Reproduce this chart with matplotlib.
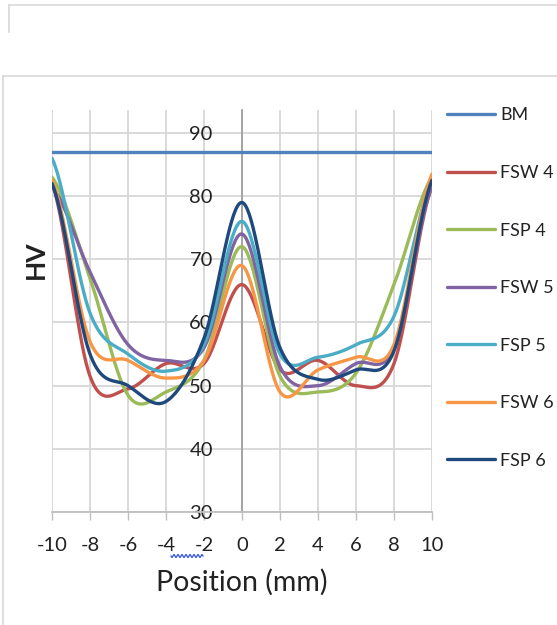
import numpy as np
import matplotlib
matplotlib.use("Agg")
import matplotlib.pyplot as plt
from matplotlib.lines import Line2D

plt.rcParams['font.family'] = ['Lato', 'DejaVu Sans']

# ---------------- data ----------------
positions = [-10, -8, -6, -4, -2, 0, 2, 4, 6, 8, 10]
series_names = ["BM", "FSW 4", "FSP 4", "FSW 5", "FSP 5", "FSW 6", "FSP 6"]
bm    = [87, 87, 87, 87, 87, 87, 87, 87, 87, 87, 87]
fsw4  = [82, 51.5, 49.5, 53.5, 53.5, 66, 52.5, 54, 50, 53.5, 81.5]
fsp4  = [83, 67, 48.5, 49, 54, 72, 51.5, 49, 52, 66, 83]
fsw5  = [81.5, 68, 56.5, 54, 56, 74, 53, 50, 53.5, 56, 81.5]
fsp5  = [86, 61.5, 55, 52.3, 56.5, 76, 55, 54.5, 56.5, 61, 82.5]
fsw6  = [82.5, 57, 54, 51.2, 54, 69, 49, 52.5, 54.5, 56.5, 83.5]
fsp6  = [82, 55, 50, 47.5, 57.5, 79, 56, 51, 52.5, 55.5, 82.5]
series_values = [bm, fsw4, fsp4, fsw5, fsp5, fsw6, fsp6]
colors = ["#4F81BD", "#C0504D", "#9BBB59", "#8064A2", "#4BACC6", "#F79646", "#1F497D"]
x_ticks = [-10, -8, -6, -4, -2, 0, 2, 4, 6, 8, 10]
y_ticks = [30, 40, 50, 60, 70, 80, 90]


def excel_smooth(xs, ys, n=40):
    """Catmull-Rom style smoothing (like Excel's smoothed line)."""
    xs = np.asarray(xs, float)
    ys = np.asarray(ys, float)
    k = len(ys)
    ox, oy = [], []
    for i in range(k - 1):
        p0 = ys[i - 1] if i > 0 else ys[i]
        p1, p2 = ys[i], ys[i + 1]
        p3 = ys[i + 2] if i + 2 < k else ys[i + 1]
        m1 = (p2 - p0) / 2.0
        m2 = (p3 - p1) / 2.0
        t = np.linspace(0, 1, n, endpoint=(i == k - 2))
        h00 = 2 * t**3 - 3 * t**2 + 1
        h10 = t**3 - 2 * t**2 + t
        h01 = -2 * t**3 + 3 * t**2
        h11 = t**3 - t**2
        oy.append(h00 * p1 + h10 * m1 + h01 * p2 + h11 * m2)
        ox.append(xs[i] + t * (xs[i + 1] - xs[i]))
    return np.concatenate(ox), np.concatenate(oy)


W, H = 557, 625
fig = plt.figure(figsize=(W / 100, H / 100), dpi=100)

px_per_unit = (512 - 133) / 60.0
top_px = 110
ymax = 30 + (512 - top_px) / px_per_unit
ax = fig.add_axes([52 / W, 1 - 512 / H, 380 / W, (512 - top_px) / H])

for name, vals, c in zip(series_names, series_values, colors):
    sx, sy = excel_smooth(positions, vals)
    ax.plot(sx, sy, color=c, lw=2.4, label=name, solid_capstyle='round', zorder=3)

ax.set_xlim(-10, 10)
ax.set_ylim(30, ymax)
ax.set_xticks(x_ticks)
ax.set_xticklabels([str(v) for v in x_ticks])
ax.set_yticks(y_ticks)
ax.set_yticklabels([str(v) for v in y_ticks])

grid_c = "#D9D9D9"
ax.grid(True, color=grid_c, lw=1.4, zorder=0)
ax.set_axisbelow(True)
for s in ["top", "right"]:
    ax.spines[s].set_visible(False)
ax.spines["left"].set_position(("data", 0))
ax.spines["left"].set_color("#A0A0A0")
ax.spines["left"].set_linewidth(1.3)
ax.spines["bottom"].set_color("#BFBFBF")
ax.spines["bottom"].set_linewidth(1.3)
ax.spines["left"].set_bounds(30, ymax)

ax.tick_params(axis="x", direction="out", length=6, width=1.0, color="#BFBFBF",
               labelsize=14.5, pad=12, labelcolor="#222222")
ax.tick_params(axis="y", direction="out", length=0, labelsize=14.5, pad=21,
               labelcolor="#222222")

ax.set_xlabel("Position (mm)", fontsize=20.5, labelpad=11, color="#222222")
fig.text(36 / W, 1 - 260 / H, "HV", rotation=90, fontsize=19, fontweight="bold",
         ha="center", va="center", color="#222222")

leg_fs = 13
leg_px = leg_fs * 100 / 72
leg = ax.legend(loc="upper left", bbox_to_anchor=(447 / W, 1 - 107.5 / H),
                bbox_transform=fig.transFigure, frameon=False, fontsize=leg_fs,
                handlelength=48 / leg_px, handletextpad=5 / leg_px, labelspacing=2.3,
                borderpad=0, borderaxespad=0)
for t in leg.get_texts():
    t.set_color("#222222")

# chart frame and upper box (light grey borders)
frame_c = "#D9D9D9"
fig.add_artist(Line2D([3 / W, 1], [1 - 76 / H, 1 - 76 / H], transform=fig.transFigure,
                      color=frame_c, lw=1.2))
fig.add_artist(Line2D([3 / W, 3 / W], [1 - 76 / H, 0], transform=fig.transFigure,
                      color=frame_c, lw=1.2))
fig.add_artist(Line2D([9 / W, 1], [1 - 5 / H, 1 - 5 / H], transform=fig.transFigure,
                      color=frame_c, lw=1.2))
fig.add_artist(Line2D([9 / W, 9 / W], [1 - 5 / H, 1 - 32 / H], transform=fig.transFigure,
                      color=frame_c, lw=1.2))

# spell-check squiggle under "-4 -2"
sq_x = np.linspace(171, 203, 60)
sq_y = 556 + 1.5 * np.sin((sq_x - 171) / 4.0 * 2 * np.pi)
fig.add_artist(Line2D(sq_x / W, 1 - sq_y / H, transform=fig.transFigure,
                      color="#3A5BE0", lw=0.9))

fig.savefig("out.png", dpi=100)
